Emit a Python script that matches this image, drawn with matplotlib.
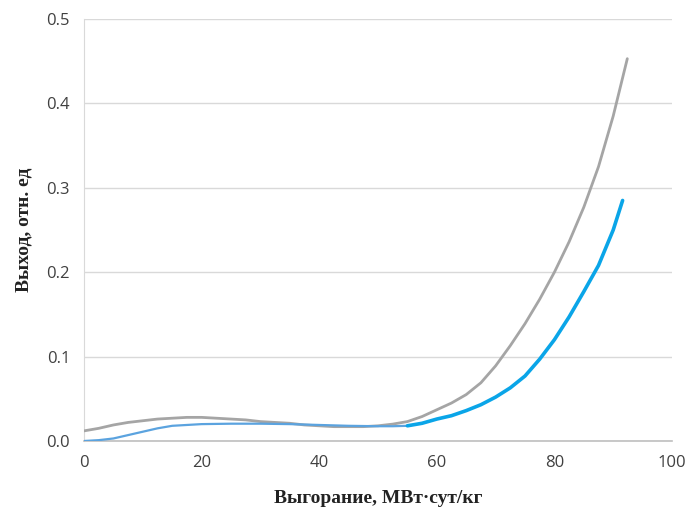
import matplotlib
matplotlib.use("Agg")
import matplotlib.pyplot as plt
from matplotlib.ticker import FormatStrFormatter

# Data
gray_x = [0, 2.5, 5, 7.5, 10, 12.5, 15, 17.5, 20, 22.5, 25, 27.5, 30, 32.5, 35, 37.5,
          40, 42.5, 45, 47.5, 50, 52.5, 55, 57.5, 60, 62.5, 65, 67.5, 70, 72.5, 75,
          77.5, 80, 82.5, 85, 87.5, 90, 92.4]
gray_y = [0.012, 0.015, 0.019, 0.022, 0.024, 0.026, 0.027, 0.028, 0.028, 0.027, 0.026,
          0.025, 0.023, 0.022, 0.021, 0.019, 0.018, 0.017, 0.017, 0.017, 0.018, 0.020,
          0.023, 0.029, 0.037, 0.045, 0.055, 0.069, 0.089, 0.113, 0.139, 0.168, 0.200,
          0.236, 0.277, 0.325, 0.385, 0.453]

blue_x = [0, 2.5, 5, 7.5, 10, 12.5, 15, 17.5, 20, 25, 30, 35, 40, 45, 50, 52.5,
          55, 57.5, 60, 62.5, 65, 67.5, 70, 72.5, 75, 77.5, 80, 82.5, 85, 87.5, 90, 91.6]
blue_y = [0.000, 0.001, 0.003, 0.007, 0.011, 0.015, 0.018, 0.019, 0.020, 0.0205, 0.0205,
          0.020, 0.019, 0.018, 0.0175, 0.0175, 0.018, 0.021, 0.026, 0.030, 0.036, 0.043,
          0.052, 0.063, 0.077, 0.097, 0.120, 0.147, 0.177, 0.208, 0.250, 0.285]
blue_split = 16  # index where the blue line becomes thicker

x_ticks = [0, 20, 40, 60, 80, 100]
y_ticks = [0.0, 0.1, 0.2, 0.3, 0.4, 0.5]
x_label = "Выгорание, МВт·сут/кг"
y_label = "Выход, отн. ед"

fig = plt.figure(figsize=(6.93, 5.11), dpi=100)
ax = fig.add_axes([84/693, 70/511, 588/693, 422/511])

ax.plot(gray_x, gray_y, color="#A5A5A5", lw=2.0, solid_capstyle="round", zorder=3)
ax.plot(blue_x[:blue_split + 1], blue_y[:blue_split + 1], color="#5BA3DF", lw=1.6,
        solid_capstyle="round", zorder=4)
ax.plot(blue_x[blue_split:], blue_y[blue_split:], color="#0AA5E8", lw=2.6,
        solid_capstyle="round", zorder=4)

ax.set_xlim(0, 100)
ax.set_ylim(0, 0.5)
ax.set_xticks(x_ticks)
ax.set_yticks(y_ticks)
ax.yaxis.set_major_formatter(FormatStrFormatter("%.1f"))
ax.grid(axis="y", color="#D9D9D9", lw=1.0)
ax.set_axisbelow(True)
for s in ["top", "right"]:
    ax.spines[s].set_visible(False)
ax.spines["left"].set_color("#D9D9D9")
ax.spines["bottom"].set_color("#BFBFBF")
ax.spines["bottom"].set_linewidth(1.2)
ax.tick_params(length=0, labelsize=12, labelcolor="#404040", pad=10)
for lab in ax.get_xticklabels() + ax.get_yticklabels():
    lab.set_family("Open Sans")

ax.set_xlabel(x_label, family="Liberation Serif", fontweight="bold", fontsize=14,
              color="#222222", labelpad=14)
ax.set_ylabel(y_label, family="Liberation Serif", fontweight="bold", fontsize=14,
              color="#222222", labelpad=10)

fig.savefig("out.png", dpi=100)
